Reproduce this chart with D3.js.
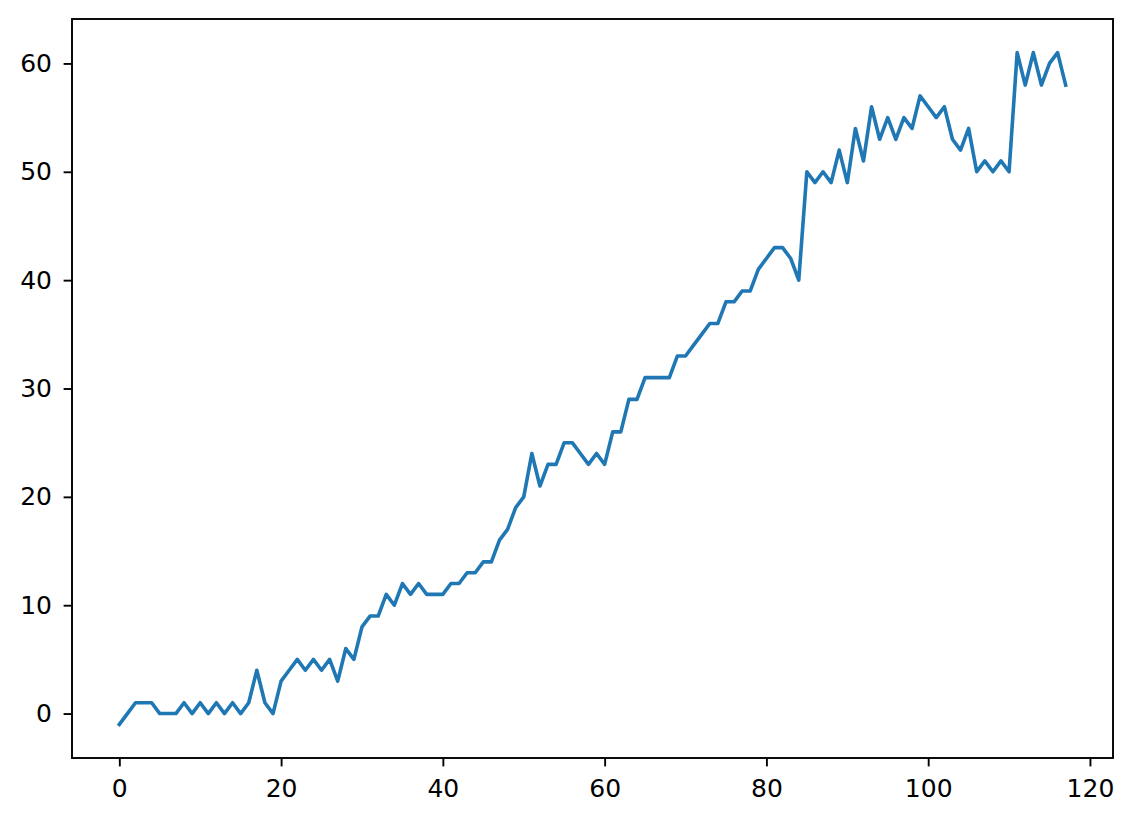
<!DOCTYPE html>
<html>
<head>
<meta charset="utf-8">
<script src="https://cdn.jsdelivr.net/npm/d3@7"></script>
<style>
  html, body { margin: 0; padding: 0; background: #ffffff; }
  svg { display: block; }
</style>
</head>
<body>
<svg id="chart" width="1134" height="822"></svg>
<script>
// Series values (index = x position 0..117)
const values = [
  -1, 0, 1, 1, 1, 0, 0, 0, 1, 0,
  1, 0, 1, 0, 1, 0, 1, 4, 1, 0,
  3, 4, 5, 4, 5, 4, 5, 3, 6, 5,
  8, 9, 9, 11, 10, 12, 11, 12, 11, 11,
  11, 12, 12, 13, 13, 14, 14, 16, 17, 19,
  20, 24, 21, 23, 23, 25, 25, 24, 23, 24,
  23, 26, 26, 29, 29, 31, 31, 31, 31, 33,
  33, 34, 35, 36, 36, 38, 38, 39, 39, 41,
  42, 43, 43, 42, 40, 50, 49, 50, 49, 52,
  49, 54, 51, 56, 53, 55, 53, 55, 54, 57,
  56, 55, 56, 53, 52, 54, 50, 51, 50, 51,
  50, 61, 58, 61, 58, 60, 61, 58
];
const xTicks = [0, 20, 40, 60, 80, 100, 120];
const yTicks = [0, 10, 20, 30, 40, 50, 60];

const svg = d3.select("#chart");
const plotLeft = 72, plotRight = 1113, plotTop = 19, plotBottom = 758;

const n = values.length;
const xMin = 0, xMax = n - 1;
const xPad = (xMax - xMin) * 0.05;
const yMin = d3.min(values), yMax = d3.max(values);
const yPad = (yMax - yMin) * 0.05;

const x = d3.scaleLinear().domain([xMin - xPad, xMax + xPad]).range([plotLeft, plotRight]);
const y = d3.scaleLinear().domain([yMin - yPad, yMax + yPad]).range([plotBottom, plotTop]);

const font = "DejaVu Sans, sans-serif";

// Line
const line = d3.line().x((d, i) => x(i)).y(d => y(d));
svg.append("path")
  .datum(values)
  .attr("fill", "none")
  .attr("stroke", "#1f77b4")
  .attr("stroke-width", 3.6)
  .attr("stroke-linejoin", "round")
  .attr("stroke-linecap", "square")
  .attr("d", line);

// Axes
const xAxis = d3.axisBottom(x).tickValues(xTicks).tickSize(8.4).tickPadding(13).tickSizeOuter(0);
const yAxis = d3.axisLeft(y).tickValues(yTicks).tickSize(8.4).tickPadding(11.6).tickSizeOuter(0);

const gx = svg.append("g").attr("transform", `translate(0,${plotBottom})`).call(xAxis);
const gy = svg.append("g").attr("transform", `translate(${plotLeft},0)`).call(yAxis);

[gx, gy].forEach(g => {
  g.select(".domain").remove();
  g.selectAll(".tick line").attr("stroke", "#000").attr("stroke-width", 1.9);
  g.selectAll(".tick text")
    .attr("fill", "#000")
    .style("font-family", font)
    .style("font-size", "25px");
});

// Frame (spines)
svg.append("rect")
  .attr("x", plotLeft).attr("y", plotTop)
  .attr("width", plotRight - plotLeft).attr("height", plotBottom - plotTop)
  .attr("fill", "none")
  .attr("stroke", "#000")
  .attr("stroke-width", 1.9);
</script>
</body>
</html>
